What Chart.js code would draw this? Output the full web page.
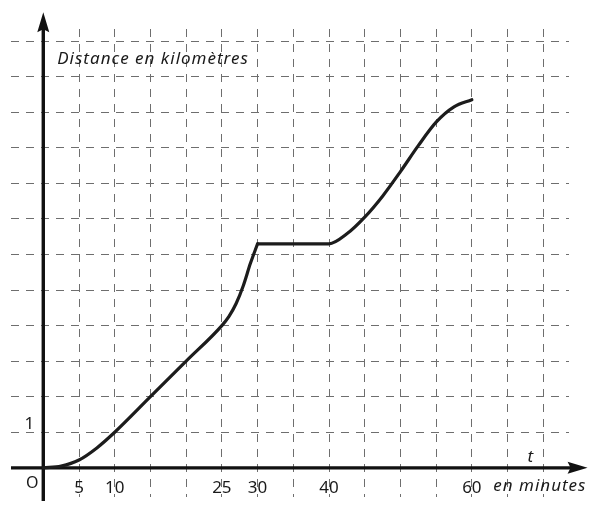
<!DOCTYPE html>
<html><head><meta charset="utf-8">
<script src="https://cdn.jsdelivr.net/npm/chart.js@4/dist/chart.umd.min.js"></script>
<style>html,body{margin:0;padding:0;background:#fff;overflow:hidden}</style>
</head><body>
<canvas id="c" width="610" height="506" style="width:610px;height:506px;display:block"></canvas>
<script>
// Data
const segA_time = [0, 2.5, 5, 7.5, 10, 15, 20, 25, 26, 27, 28, 29, 30];
const segA_dist = [0, 0.05, 0.22, 0.56, 1, 2, 3, 4, 4.26, 4.62, 5.12, 5.75, 6.3];
const segB_time = [30, 35, 40, 42.5, 45, 47.5, 50, 52.5, 55, 57.5, 60];
const segB_dist = [6.3, 6.3, 6.3, 6.58, 7.05, 7.64, 8.33, 9.06, 9.72, 10.15, 10.35];
const xTickLabels = [5, 10, 25, 30, 40, 60];
const yTickLabels = [1];
const xGridValues = [5, 10, 15, 20, 25, 30, 35, 40, 45, 50, 55, 60, 65, 70, 75];
const yGridValues = [1, 2, 3, 4, 5, 6, 7, 8, 9, 10, 11, 12];
const xAxisEnd = 76.2, yAxisEnd = 12.81;
const yAxisTitle = 'Distance en kilomètres';
const xAxisVar = 't';
const xAxisUnit = 'en minutes';
const originLabel = 'O';

const toPts = (xs, ys) => xs.map((x, i) => ({x, y: ys[i]}));

const axesPlugin = {
  id: 'axesPlugin',
  beforeDatasetsDraw(chart) {
    const {ctx, scales: {x, y}, chartArea} = chart;
    const x0 = x.getPixelForValue(0), y0 = y.getPixelForValue(0);
    const xt = x.getPixelForValue(xAxisEnd), yt = y.getPixelForValue(yAxisEnd);
    ctx.save();
    ctx.strokeStyle = '#111'; ctx.fillStyle = '#111'; ctx.lineWidth = 3.4;
    ctx.beginPath();
    ctx.moveTo(chartArea.left, y0); ctx.lineTo(xt - 14, y0);
    ctx.moveTo(x0, chartArea.bottom + 4); ctx.lineTo(x0, yt + 14);
    ctx.stroke();
    ctx.beginPath();
    ctx.moveTo(xt, y0); ctx.lineTo(xt - 20, y0 - 6); ctx.lineTo(xt - 17, y0); ctx.lineTo(xt - 20, y0 + 6); ctx.closePath();
    ctx.fill();
    ctx.beginPath();
    ctx.moveTo(x0, yt); ctx.lineTo(x0 - 6, yt + 20); ctx.lineTo(x0, yt + 17); ctx.lineTo(x0 + 6, yt + 20); ctx.closePath();
    ctx.fill();
    ctx.restore();
  },
  afterDraw(chart) {
    const {ctx, scales: {x, y}} = chart;
    const x0 = x.getPixelForValue(0), y0 = y.getPixelForValue(0);
    ctx.save();
    ctx.fillStyle = '#1a1a1a';
    ctx.textBaseline = 'alphabetic';
    ctx.font = '17px "Noto Sans"';
    ctx.textAlign = 'center';
    xTickLabels.forEach(v => ctx.fillText(String(v), x.getPixelForValue(v), y0 + 25));
    yTickLabels.forEach(v => ctx.fillText(String(v), x0 - 14, y.getPixelForValue(v) - 3));
    ctx.font = '16px "Noto Sans"';
    ctx.fillText(originLabel, x0 - 11, y0 + 20);
    ctx.font = 'italic 17px "Noto Sans"';
    ctx.textAlign = 'left';
    try { ctx.letterSpacing = '1px'; } catch (e) {}
    ctx.fillText(yAxisTitle, x0 + 14, y.getPixelForValue(11.4) + 2);
    ctx.fillText(xAxisUnit, x.getPixelForValue(63.0), y0 + 23);
    try { ctx.letterSpacing = '0px'; } catch (e) {}
    ctx.textAlign = 'center';
    ctx.fillText(xAxisVar, x.getPixelForValue(68.2), y0 - 6);
    ctx.restore();
  }
};

const lineStyle = {
  borderColor: '#1c1c1c', borderWidth: 3.2, pointRadius: 0, fill: false,
  cubicInterpolationMode: 'monotone', borderCapStyle: 'round', borderJoinStyle: 'round'
};

new Chart(document.getElementById('c'), {
  type: 'line',
  data: {
    datasets: [
      Object.assign({label: 'A', data: toPts(segA_time, segA_dist)}, lineStyle),
      Object.assign({label: 'B', data: toPts(segB_time, segB_dist)}, lineStyle)
    ]
  },
  options: {
    responsive: false, animation: false, devicePixelRatio: 1,
    layout: {padding: {left: 11, top: 29, right: 41, bottom: 9}},
    plugins: {legend: {display: false}, tooltip: {enabled: false}},
    scales: {
      x: {
        type: 'linear', min: -4.52, max: 73.6,
        afterBuildTicks: s => { s.ticks = xGridValues.filter(v => v <= s.max).map(v => ({value: v})); },
        ticks: {display: false},
        grid: {color: '#6e6e6e', lineWidth: 1, drawTicks: false},
        border: {display: false, dash: [8, 7]}
      },
      y: {
        type: 'linear', min: -0.82, max: 12.34,
        afterBuildTicks: s => { s.ticks = yGridValues.map(v => ({value: v})); },
        ticks: {display: false},
        grid: {color: '#6e6e6e', lineWidth: 1, drawTicks: false},
        border: {display: false, dash: [8, 7]}
      }
    }
  },
  plugins: [axesPlugin]
});
</script>
</body></html>
